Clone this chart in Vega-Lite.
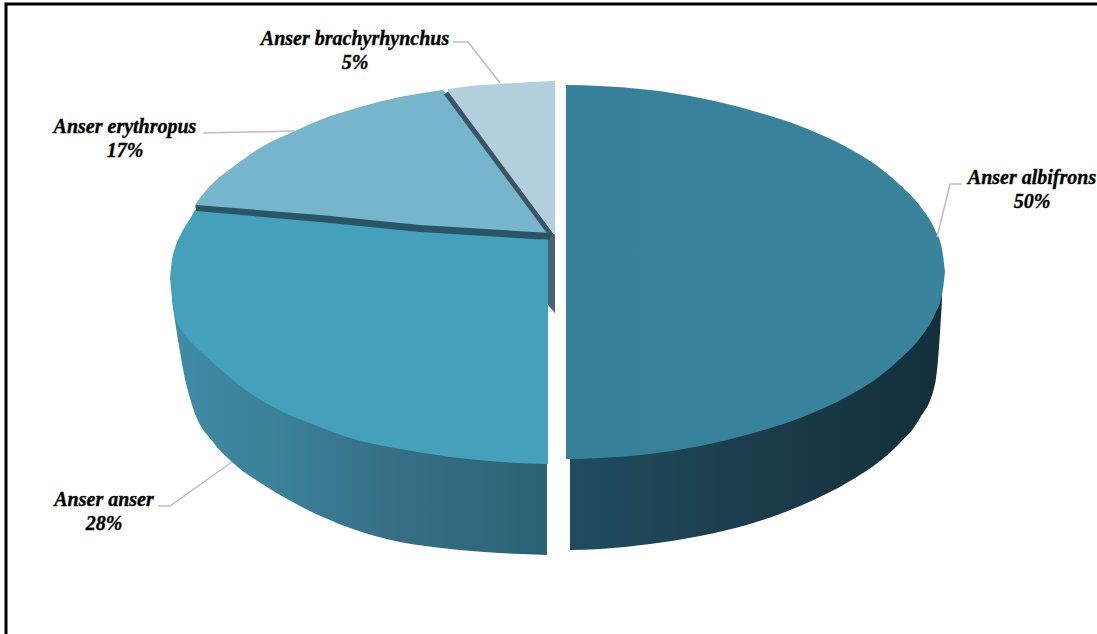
{
"$schema":"https://vega.github.io/schema/vega-lite/v6.json",
"width":1097,"height":634,"padding":0,
"autosize":"none",
"background":"white",
"config":{"view":{"stroke":null}},
"datasets":{
"surfaces":[
{"s":"wallR","x":570,"y":450,"y2":550},{"s":"wallR","x":600,"y":450,"y2":549},{"s":"wallR","x":650,"y":446,"y2":544},{"s":"wallR","x":700,"y":438,"y2":536},{"s":"wallR","x":750,"y":426,"y2":524},{"s":"wallR","x":800,"y":410,"y2":506},{"s":"wallR","x":850,"y":387,"y2":481},{"s":"wallR","x":880,"y":368,"y2":461},{"s":"wallR","x":900,"y":351,"y2":443},{"s":"wallR","x":920,"y":330,"y2":418},{"s":"wallR","x":935,"y":306,"y2":384},{"s":"wallR","x":938,"y":296,"y2":360},{"s":"wallR","x":942,"y":287,"y2":300},
{"s":"topR","x":566,"y":85,"y2":459},{"s":"topR","x":600,"y":86,"y2":458},{"s":"topR","x":650,"y":90,"y2":454},{"s":"topR","x":700,"y":98,"y2":446},{"s":"topR","x":750,"y":110,"y2":434},{"s":"topR","x":800,"y":126,"y2":418},{"s":"topR","x":850,"y":149,"y2":395},{"s":"topR","x":880,"y":168,"y2":376},{"s":"topR","x":900,"y":185,"y2":359},{"s":"topR","x":920,"y":206,"y2":338},{"s":"topR","x":935,"y":230,"y2":314},{"s":"topR","x":942,"y":249,"y2":295},{"s":"topR","x":945,"y":272,"y2":272},
{"s":"wallL","x":172,"y":295,"y2":300},{"s":"wallL","x":175,"y":305,"y2":321},{"s":"wallL","x":179,"y":315,"y2":346},{"s":"wallL","x":184,"y":322,"y2":374},{"s":"wallL","x":193,"y":332,"y2":408},{"s":"wallL","x":213,"y":352,"y2":442},{"s":"wallL","x":232,"y":372,"y2":462},{"s":"wallL","x":267,"y":395,"y2":487},{"s":"wallL","x":300,"y":410,"y2":506},{"s":"wallL","x":350,"y":428,"y2":528},{"s":"wallL","x":400,"y":441,"y2":542},{"s":"wallL","x":450,"y":449,"y2":549},{"s":"wallL","x":500,"y":454,"y2":553},{"s":"wallL","x":547,"y":456,"y2":555},
{"s":"topL","x":170,"y":278,"y2":278},{"s":"topL","x":172,"y":260,"y2":298},{"s":"topL","x":175,"y":248,"y2":316},{"s":"topL","x":180,"y":236,"y2":328},{"s":"topL","x":190,"y":219,"y2":341},{"s":"topL","x":197,"y":209,"y2":348},{"s":"topL","x":220,"y":211,"y2":369},{"s":"topL","x":250,"y":214,"y2":393},{"s":"topL","x":283,"y":217,"y2":412},{"s":"topL","x":320,"y":220,"y2":427},{"s":"topL","x":350,"y":222,"y2":438},{"s":"topL","x":400,"y":227,"y2":449},{"s":"topL","x":450,"y":231,"y2":457},{"s":"topL","x":500,"y":235,"y2":462},{"s":"topL","x":548,"y":240,"y2":464},
{"s":"inner","x":548,"y":234,"y2":305},{"s":"inner","x":555,"y":234,"y2":313},
{"s":"topE1","x":195,"y":205,"y2":208},{"s":"topE1","x":200,"y":198,"y2":208},{"s":"topE1","x":215,"y":181,"y2":210},{"s":"topE1","x":233,"y":167,"y2":211},{"s":"topE1","x":260,"y":148,"y2":213},{"s":"topE1","x":295,"y":131,"y2":216},{"s":"topE1","x":320,"y":120,"y2":218},{"s":"topE1","x":360,"y":107,"y2":221},{"s":"topE1","x":400,"y":97,"y2":224},{"s":"topE1","x":443,"y":90,"y2":228},
{"s":"topE2","x":443,"y":90,"y2":228},{"s":"topE2","x":470,"y":126,"y2":230},{"s":"topE2","x":500,"y":166,"y2":232},{"s":"topE2","x":530,"y":206,"y2":234},{"s":"topE2","x":549,"y":232,"y2":236},
{"s":"band","x":196,"y":205,"y2":211},{"s":"band","x":320,"y":215,"y2":222},{"s":"band","x":420,"y":225,"y2":232},{"s":"band","x":550,"y":233,"y2":240},
{"s":"topB","x":448,"y":89,"y2":95},{"s":"topB","x":470,"y":86,"y2":123},{"s":"topB","x":500,"y":84,"y2":162},{"s":"topB","x":530,"y":82,"y2":202},{"s":"topB","x":555,"y":81,"y2":235}
],
"paths":[
{"p":"diag","x":446,"y":93,"o":1},{"p":"diag","x":552,"y":236,"o":2},
{"p":"lb","x":453,"y":42,"o":1},{"p":"lb","x":468,"y":42,"o":2},{"p":"lb","x":500,"y":83,"o":3},
{"p":"le","x":203,"y":133,"o":1},{"p":"le","x":295,"y":131,"o":2},
{"p":"la","x":962,"y":184,"o":1},{"p":"la","x":950,"y":184,"o":2},{"p":"la","x":937,"y":237,"o":3},
{"p":"ln","x":158,"y":506,"o":1},{"p":"ln","x":170,"y":506,"o":2},{"p":"ln","x":232,"y":462,"o":3}
],
"frame":[{"x":6,"y":634,"o":1},{"x":6,"y":4,"o":2},{"x":1097,"y":4,"o":3}],
"labels":[
{"species":"Anser albifrons","share":"50%","x":1032,"y":178},
{"species":"Anser anser","share":"28%","x":104,"y":500},
{"species":"Anser erythropus","share":"17%","x":125,"y":127},
{"species":"Anser brachyrhynchus","share":"5%","x":355,"y":39}
]
},
"encoding":{
"x":{"field":"x","type":"quantitative","scale":{"domain":[0,1097],"nice":false,"zero":false},"axis":null},
"y":{"field":"y","type":"quantitative","scale":{"domain":[634,0],"nice":false,"zero":false},"axis":null}
},
"layer":[
{"data":{"name":"surfaces"},"transform":[{"filter":"datum.s==='wallR'"}],"mark":{"type":"area","interpolate":"monotone","color":{"gradient":"linear","x1":0,"x2":1,"y1":0,"y2":0,"stops":[{"offset":0,"color":"#1f4d5f"},{"offset":0.4,"color":"#1c3f4f"},{"offset":1,"color":"#132f3b"}]}},"encoding":{"y2":{"field":"y2"}}},
{"data":{"name":"surfaces"},"transform":[{"filter":"datum.s==='topR'"}],"mark":{"type":"area","interpolate":"monotone","color":{"gradient":"linear","x1":0,"x2":1,"y1":0,"y2":0,"stops":[{"offset":0,"color":"#36809a"},{"offset":1,"color":"#39839c"}]}},"encoding":{"y2":{"field":"y2"}}},
{"data":{"name":"surfaces"},"transform":[{"filter":"datum.s==='wallL'"}],"mark":{"type":"area","interpolate":"monotone","color":{"gradient":"linear","x1":0,"x2":1,"y1":0,"y2":0,"stops":[{"offset":0,"color":"#3f8ba6"},{"offset":0.3,"color":"#3a8099"},{"offset":0.6,"color":"#366e85"},{"offset":1,"color":"#2a6375"}]}},"encoding":{"y2":{"field":"y2"}}},
{"data":{"name":"surfaces"},"transform":[{"filter":"datum.s==='inner'"}],"mark":{"type":"area","color":"#4a6272"},"encoding":{"y2":{"field":"y2"}}},
{"data":{"name":"surfaces"},"transform":[{"filter":"datum.s==='topL'"}],"mark":{"type":"area","interpolate":"monotone","color":"#44a0bb"},"encoding":{"y2":{"field":"y2"}}},
{"data":{"name":"surfaces"},"transform":[{"filter":"datum.s==='topE1'"}],"mark":{"type":"area","interpolate":"monotone","color":"#77b5cc"},"encoding":{"y2":{"field":"y2"}}},
{"data":{"name":"surfaces"},"transform":[{"filter":"datum.s==='topE2'"}],"mark":{"type":"area","color":"#77b5cc"},"encoding":{"y2":{"field":"y2"}}},
{"data":{"name":"surfaces"},"transform":[{"filter":"datum.s==='topB'"}],"mark":{"type":"area","interpolate":"monotone","color":"#b2cfde"},"encoding":{"y2":{"field":"y2"}}},
{"data":{"name":"surfaces"},"transform":[{"filter":"datum.s==='band'"}],"mark":{"type":"area","color":"#2a5468"},"encoding":{"y2":{"field":"y2"}}},
{"data":{"name":"paths"},"transform":[{"filter":"datum.p==='diag'"}],"mark":{"type":"line","color":"#3b5566","strokeWidth":5},"encoding":{"order":{"field":"o"}}},
{"data":{"name":"paths"},"transform":[{"filter":"datum.p!=='diag'"}],"mark":{"type":"line","color":"#bdbdbd","strokeWidth":1.5},"encoding":{"order":{"field":"o"},"detail":{"field":"p"}}},
{"data":{"name":"frame"},"mark":{"type":"line","color":"#000000","strokeWidth":3,"clip":false},"encoding":{"order":{"field":"o"}}},
{"data":{"name":"labels"},"mark":{"type":"text","font":"Liberation Serif","fontSize":20,"fontWeight":"bold","fontStyle":"italic","color":"#000000","stroke":"#000000","strokeWidth":0.35,"align":"center","baseline":"middle"},"encoding":{"text":{"field":"species"}}},
{"data":{"name":"labels"},"mark":{"type":"text","font":"Liberation Serif","fontSize":20,"fontWeight":"bold","fontStyle":"italic","color":"#000000","stroke":"#000000","strokeWidth":0.35,"align":"center","baseline":"middle","dy":24},"encoding":{"text":{"field":"share"}}}
]
}
